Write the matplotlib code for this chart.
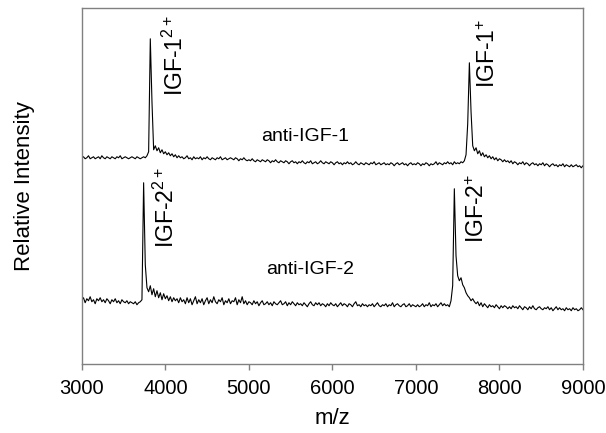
import numpy as np
import matplotlib.pyplot as plt

plt.rcParams['font.family'] = ['Liberation Sans', 'DejaVu Sans']
plt.rcParams['mathtext.default'] = 'regular'

# spectra sampled every 20 m/z from 3000 to 9000 (arbitrary intensity units, stacked)
MZ_START = 3000
MZ_STEP = 20

anti_igf1 = [
    # 3000-3780
    206, 207, 205, 206, 208, 205, 206, 207, 205, 206,
    207, 205, 208, 206, 205, 207, 206, 205, 207, 206,
    205, 207, 206, 208, 205, 206, 207, 206, 205, 206,
    207, 206, 205, 207, 206, 205, 206, 207, 206, 208,
    # IGF-1 2+ peak
    212, 325, 262, 214,
    218, 213, 216, 211, 214, 210, 212, 209, 211, 208, 210, 207, 209, 206, 208, 206,
    # 4200-7540
    207, 205, 206, 208, 205, 206, 204, 207, 205, 206,
    205, 207, 204, 206, 205, 207, 205, 204, 206, 205,
    204, 206, 205, 207, 204, 205, 206, 204, 205, 206,
    205, 204, 206, 205, 203, 205, 204, 206, 204, 203,
    204, 203, 205, 203, 202, 204, 203, 202, 204, 203,
    202, 204, 203, 201, 203, 202, 204, 202, 201, 203,
    202, 201, 203, 202, 200, 202, 203, 201, 202, 200,
    202, 201, 203, 201, 200, 202, 201, 203, 200, 201,
    202, 200, 201, 203, 201, 200, 202, 201, 200, 202,
    201, 199, 201, 202, 200, 201, 199, 201, 200, 202,
    200, 201, 199, 200, 202, 200, 199, 201, 200, 199,
    201, 200, 199, 201, 200, 202, 199, 200, 201, 199,
    200, 201, 199, 200, 199, 201, 200, 198, 200, 201,
    199, 200, 201, 199, 200, 198, 200, 201, 199, 200,
    199, 201, 200, 198, 200, 199, 201, 200, 198, 200,
    199, 200, 202, 199, 201, 200, 199, 201, 200, 202,
    200, 201, 199, 202, 200, 201, 200, 202,
    # IGF-1 + peak
    201, 203, 209, 240, 301, 252, 218, 213, 216, 210, 213, 208, 211, 207, 209,
    # 7860-9000
    206, 208, 205, 207, 204, 206, 203, 205, 204, 202,
    204, 202, 203, 201, 203, 200, 202, 201, 199, 201,
    200, 202, 199, 201, 200, 198, 200, 201, 199, 200,
    198, 200, 199, 201, 198, 200, 199, 197, 199, 200,
    198, 199, 197, 199, 198, 200, 197, 199, 198, 197,
    199, 197, 198, 199, 197, 198, 196, 198,
]

anti_igf2 = [
    # 3000-3700
    64, 66, 61, 65, 63, 67, 62, 64, 60, 65,
    63, 66, 62, 64, 61, 65, 63, 60, 64, 62,
    65, 61, 63, 60, 64, 62, 61, 63, 60, 62,
    61, 60, 62, 59, 61, 62,
    # IGF-2 2+ peak
    64, 181, 99, 76,
    72, 78, 69, 75, 67, 73, 66, 71, 64, 70, 65, 68, 63, 67, 62, 66, 63, 65, 61, 66, 62,
    # 4220-7420
    64, 60, 66, 61, 65, 59, 63, 67, 60, 64,
    61, 65, 59, 63, 66, 60, 64, 61, 67, 62,
    60, 64, 62, 66, 59, 63, 61, 65, 60, 63,
    62, 66, 59, 64, 61, 67, 60, 63, 59, 62,
    61, 59, 63, 60, 62, 58, 61, 63, 59, 60,
    62, 59, 61, 58, 62, 60, 59, 61, 63, 59,
    60, 62, 58, 61, 59, 62, 60, 58, 61, 59,
    60, 58, 61, 59, 57, 60, 62, 59, 58, 61,
    59, 61, 58, 60, 59, 57, 60, 58, 61, 59,
    58, 60, 57, 59, 61, 58, 60, 59, 57, 60,
    59, 57, 60, 62, 58, 59, 57, 60, 58, 59,
    57, 59, 58, 60, 57, 59, 61, 58, 57, 59,
    58, 60, 57, 59, 58, 61, 57, 59, 60, 58,
    57, 59, 60, 57, 58, 60, 57, 59, 58, 57,
    59, 57, 58, 60, 57, 59, 58, 61, 57, 59,
    58, 60, 57, 59, 61, 58, 60, 58, 59, 57,
    63,
    # IGF-2 + peak
    78, 175, 108, 88, 83, 86, 79, 76, 71, 68, 66, 63, 65, 62,
    # 7720-9000
    60, 62, 58, 61, 57, 60, 58, 56, 59, 57,
    58, 56, 59, 57, 55, 58, 56, 58, 57, 55,
    57, 55, 58, 56, 57, 55, 58, 56, 54, 57,
    56, 54, 57, 55, 58, 55, 54, 56, 57, 55,
    54, 56, 55, 57, 54, 56, 53, 55, 57, 54,
    56, 54, 55, 53, 56, 54, 55, 53, 56, 54,
    55, 53, 54, 56, 54,
]

x_ticks = [3000, 4000, 5000, 6000, 7000, 8000, 9000]

# (text, m/z, intensity) for peak labels
peak_labels = [
    ('IGF-1$^{2+}$', 4114, 268),
    ('IGF-1$^{+}$', 7874, 276),
    ('IGF-2$^{2+}$', 4006, 116),
    ('IGF-2$^{+}$', 7742, 121),
]
trace_labels = [
    ('anti-IGF-1', 5671, 227),
    ('anti-IGF-2', 5730, 94),
]


fig = plt.figure(figsize=(6.06, 4.33), dpi=100)
ax = fig.add_axes([0.135, 0.16, 0.827, 0.822])

for vals in (anti_igf1, anti_igf2):
    mz = MZ_START + MZ_STEP * np.arange(len(vals))
    ax.plot(mz, vals, color='black', lw=0.8)

for txt, x, y in peak_labels:
    ax.text(x, y, txt, rotation=90, ha='center', va='bottom', fontsize=16.5)
for txt, x, y in trace_labels:
    ax.text(x, y, txt, ha='center', va='center', fontsize=14)

ax.set_xlim(3000, 9000)
ax.set_ylim(0, 356)
ax.set_xticks(x_ticks)
ax.set_yticks([])
ax.tick_params(axis='x', direction='out', length=4, width=1, color='#808080',
               labelsize=14.5, pad=7)
for s in ax.spines.values():
    s.set_color('#808080')
    s.set_linewidth(1)

ax.set_xlabel('m/z', fontsize=16, labelpad=7)
ax.set_ylabel('Relative Intensity', fontsize=16, labelpad=34)

plt.savefig('out.png', dpi=100)
